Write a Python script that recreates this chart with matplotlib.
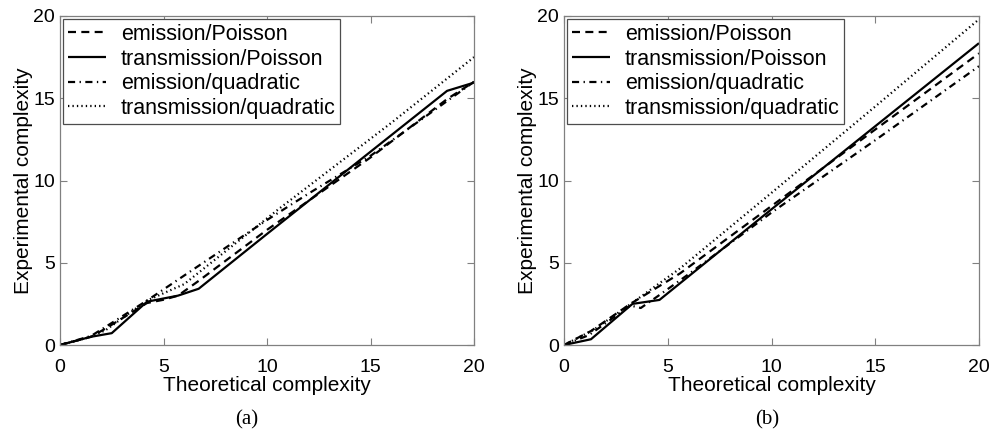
import matplotlib
matplotlib.use("Agg")
import matplotlib.pyplot as plt

plt.rcParams['font.family'] = ['Liberation Sans', 'DejaVu Sans']

# ---------------- data: panel (a) ----------------
a_ep_x = [0, 1.5, 2.2, 4.2, 5.0, 5.7, 6.7, 10.0, 15.0, 18.7, 20.0]
a_ep_y = [0, 0.5, 1.0, 2.55, 2.75, 3.0, 3.9, 7.0, 11.4, 14.95, 16.0]

a_tp_x = [0, 1.5, 2.5, 4.2, 5.7, 6.7, 10.0, 15.0, 18.7, 20.0]
a_tp_y = [0, 0.5, 0.72, 2.63, 3.0, 3.42, 6.75, 11.75, 15.45, 15.95]

a_eq_x = [0, 1.5, 2.2, 4.2, 6.8, 10.0, 12.0, 15.0, 17.0, 20.0]
a_eq_y = [0, 0.55, 1.1, 2.7, 4.9, 7.6, 9.2, 11.5, 13.3, 16.0]

a_tq_x = [0, 1.5, 2.2, 4.2, 6.0, 10.6, 16.0, 20.0]
a_tq_y = [0, 0.5, 0.9, 2.7, 3.7, 8.3, 13.5, 17.5]

# ---------------- data: panel (b) ----------------
b_ep_x = [0, 1.3, 3.2, 5.6, 10.0, 15.0, 20.0]
b_ep_y = [0, 0.85, 2.5, 4.36, 8.45, 13.1, 17.73]

b_tp_x = [0, 1.3, 3.3, 4.6, 10.0, 15.0, 20.0]
b_tp_y = [0, 0.35, 2.5, 2.74, 8.25, 13.3, 18.35]

b_eq_x = [0, 1.2, 3.2, 3.7, 4.5, 6.0, 10.0, 15.0, 20.0]
b_eq_y = [0, 0.6, 2.4, 2.25, 2.95, 4.3, 8.05, 12.45, 16.95]

b_tq_x = [0, 1.4, 3.0, 5.6, 10.0, 15.0, 20.0]
b_tq_y = [0, 0.9, 2.3, 4.66, 9.25, 14.5, 19.8]

labels = ["emission/Poisson", "transmission/Poisson",
          "emission/quadratic", "transmission/quadratic"]
ticks = [0, 5, 10, 15, 20]
captions = ["(a)", "(b)"]

styles = [(0, (3.6, 2.4)), '-', (0, (3.2, 2.0, 0.6, 2.0)), (0, (0.6, 1.4))]

fig = plt.figure(figsize=(9.92, 4.32), dpi=100)
W, H = 992.0, 432.0
ax_a = fig.add_axes([60 / W, (432 - 345) / H, 414 / W, 329 / H])
ax_b = fig.add_axes([564 / W, (432 - 345) / H, 415 / W, 329 / H])

panels = [
    (ax_a, [(a_ep_x, a_ep_y), (a_tp_x, a_tp_y), (a_eq_x, a_eq_y), (a_tq_x, a_tq_y)]),
    (ax_b, [(b_ep_x, b_ep_y), (b_tp_x, b_tp_y), (b_eq_x, b_eq_y), (b_tq_x, b_tq_y)]),
]

for ax, series in panels:
    for (x, y), ls, lab in zip(series, styles, labels):
        ax.plot(x, y, color='black', linestyle=ls, lw=1.6, label=lab,
                solid_capstyle='butt', dash_capstyle='butt')
    ax.set_xlim(0, 20)
    ax.set_ylim(0, 20)
    ax.set_xticks(ticks)
    ax.set_yticks(ticks)
    ax.tick_params(direction='in', length=5, width=0.8, color='0.5',
                   top=True, right=True, labelsize=14)
    ax.tick_params(axis='x', pad=10)
    ax.tick_params(axis='y', pad=3.5)
    for s in ax.spines.values():
        s.set_color('0.5')
        s.set_linewidth(0.9)
    ax.set_xlabel("Theoretical complexity", fontsize=15)
    ax.set_ylabel("Experimental complexity", fontsize=15)
    ax.xaxis.set_label_coords(0.5, -0.095)
    ax.yaxis.set_label_coords(-0.066, 0.5)
    leg = ax.legend(loc='upper left', fontsize=15.5, handlelength=1.75,
                    handletextpad=0.7, labelspacing=0.17, borderpad=0.22,
                    borderaxespad=0.15, fancybox=False, framealpha=1)
    leg.get_frame().set_edgecolor('0.3')
    leg.get_frame().set_linewidth(0.9)

fig.text(247 / W, 1 - 420 / H, captions[0], ha='center', va='center',
         fontsize=15, family=['Liberation Serif', 'DejaVu Serif'])
fig.text(767 / W, 1 - 420 / H, captions[1], ha='center', va='center',
         fontsize=15, family=['Liberation Serif', 'DejaVu Serif'])

fig.savefig("out.png", dpi=100)
